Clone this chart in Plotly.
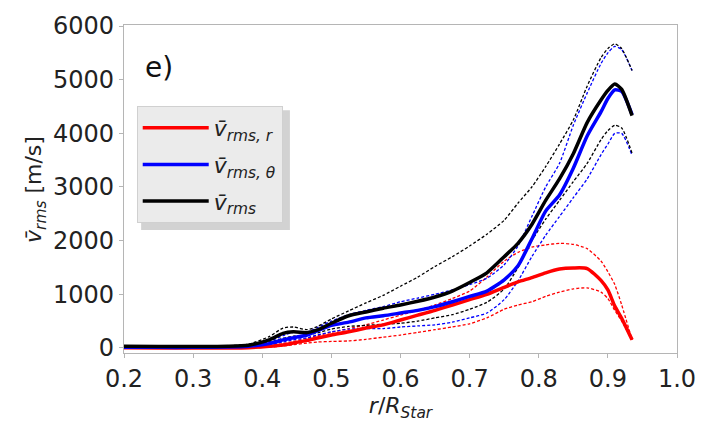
import plotly.graph_objects as go

r = [0.2, 0.25, 0.3, 0.35, 0.38, 0.41, 0.43, 0.445, 0.465, 0.48, 0.5, 0.525, 0.55, 0.575,
     0.6, 0.625, 0.65, 0.675, 0.7, 0.725, 0.75, 0.77, 0.79, 0.81, 0.83, 0.85, 0.87, 0.89,
     0.9, 0.91, 0.92, 0.935]

v_tot = [30, 25, 25, 30, 50, 150, 270, 300, 285, 335, 460, 600, 670, 740,
         800, 870, 950, 1060, 1220, 1400, 1700, 1950, 2300, 2750, 3150, 3620, 4200, 4620,
         4800, 4920, 4820, 4330]
v_tot_hi = [40, 35, 35, 40, 70, 210, 370, 390, 340, 400, 540, 690, 840, 980,
            1150, 1320, 1520, 1700, 1900, 2120, 2380, 2700, 3000, 3380, 3800, 4250, 4880, 5410,
            5580, 5670, 5580, 5170]
v_tot_lo = [20, 15, 15, 20, 30, 100, 180, 220, 240, 280, 350, 400, 420, 440,
            460, 500, 560, 620, 720, 850, 1100, 1500, 2000, 2400, 2750, 3100, 3440, 3880,
            4050, 4150, 4100, 3630]

v_th = [10, 10, 10, 15, 30, 80, 150, 190, 240, 320, 420, 480, 560, 600,
        650, 700, 770, 860, 960, 1060, 1270, 1530, 2030, 2550, 2850, 3350, 3950, 4400,
        4650, 4810, 4780, 4350]
v_th_hi = [15, 15, 15, 20, 40, 120, 230, 290, 300, 380, 500, 620, 700, 770,
           860, 930, 1000, 1080, 1180, 1300, 1550, 1900, 2450, 3000, 3440, 4150, 4750, 5300,
           5500, 5620, 5560, 5170]
v_th_lo = [5, 5, 5, 8, 20, 60, 110, 150, 190, 240, 300, 350, 360, 360,
           390, 410, 430, 480, 560, 650, 900, 1250, 1700, 2100, 2450, 2800, 3150, 3600,
           3800, 4000, 4000, 3590]

v_r = [5, 0, 0, 0, 5, 30, 55, 90, 140, 185, 240, 300, 370, 430,
       520, 610, 700, 800, 900, 1000, 1130, 1230, 1310, 1400, 1470, 1490, 1480, 1260,
       1080, 780, 550, 150]
v_r_hi = [5, 5, 5, 5, 10, 40, 80, 120, 180, 230, 290, 360, 430, 520,
          610, 700, 800, 920, 1060, 1320, 1620, 1780, 1880, 1920, 1950, 1930, 1850, 1620,
          1420, 1180, 800, 150]
v_r_lo = [0, 0, 0, 0, 0, 15, 35, 60, 90, 110, 120, 130, 160, 200,
          240, 290, 340, 390, 450, 560, 720, 800, 860, 960, 1040, 1100, 1120, 1040,
          920, 700, 500, 150]

x_ticks = [0.2, 0.3, 0.4, 0.5, 0.6, 0.7, 0.8, 0.9, 1.0]
x_tick_labels = ["0.2", "0.3", "0.4", "0.5", "0.6", "0.7", "0.8", "0.9", "1.0"]
y_ticks = [0, 1000, 2000, 3000, 4000, 5000, 6000]

RED, BLUE, BLACK = "#ff0000", "#0000ff", "#000000"
FONT = "DejaVu Sans"

fig = go.Figure()

def dashed(y, color):
    fig.add_trace(go.Scatter(x=r, y=y, mode="lines", showlegend=False, hoverinfo="skip",
                             line=dict(color=color, width=1.3, dash="3px,2px", shape="spline", smoothing=0.6)))

for ys, c in [(v_r_hi, RED), (v_r_lo, RED), (v_th_hi, BLUE), (v_th_lo, BLUE),
              (v_tot_hi, BLACK), (v_tot_lo, BLACK)]:
    dashed(ys, c)

fig.add_trace(go.Scatter(x=r, y=v_r, mode="lines", name="<i>v̄<sub>rms, r</sub></i>", legendgroup="a",
                         line=dict(color=RED, width=3.5, shape="spline", smoothing=0.6)))
fig.add_trace(go.Scatter(x=r, y=v_th, mode="lines", name="<i>v̄<sub>rms, θ</sub></i>", legendgroup="b",
                         line=dict(color=BLUE, width=3.5, shape="spline", smoothing=0.6)))
fig.add_trace(go.Scatter(x=r, y=v_tot, mode="lines", name="<i>v̄<sub>rms</sub></i>", legendgroup="c",
                         line=dict(color=BLACK, width=3.5, shape="spline", smoothing=0.6)))

fig.add_annotation(text="e)", xref="paper", yref="paper", x=0.035, y=0.87,
                   xanchor="left", yanchor="middle", showarrow=False,
                   font=dict(family=FONT, size=28, color="#111"))

# y-axis title
fig.add_annotation(text="<i>v̄<sub>rms</sub></i> [m/s]", xref="paper", yref="paper",
                   x=-0.161, y=0.5, xanchor="center", yanchor="middle", textangle=-90,
                   showarrow=False, font=dict(family=FONT, size=22, color="#222"))

# legend shadow
fig.add_shape(type="rect", xref="paper", yref="paper",
              x0=0.031, x1=0.3, y0=0.375, y1=0.74,
              fillcolor="#d2d2d2", line=dict(width=0), layer="below")

fig.update_layout(
    width=720, height=422,
    margin=dict(l=124, r=43, t=25, b=69),
    paper_bgcolor="white", plot_bgcolor="white",
    font=dict(family=FONT, size=24, color="#222"),
    showlegend=True,
    legend=dict(x=0.023, y=0.753, xanchor="left", yanchor="top",
                bgcolor="#ebebeb", bordercolor="#d0d0d0", borderwidth=1,
                font=dict(family=FONT, size=22, color="#222"),
                itemwidth=66, tracegroupgap=5, traceorder="grouped"),
    xaxis=dict(range=[0.2, 1.0], tickvals=x_ticks, ticktext=x_tick_labels,
               showgrid=False, zeroline=False, showline=True, linecolor="#b5b5b5",
               linewidth=1.2, mirror=True, ticks="outside", ticklen=4, tickcolor="#b5b5b5",
               tickfont=dict(size=24, color="#222"),
               title=dict(text="<i>r</i>/<i>R<sub>Star</sub></i>", font=dict(size=22), standoff=0)),
    yaxis=dict(range=[-95, 6020], tickvals=y_ticks,
               showgrid=False, zeroline=False, showline=True, linecolor="#b5b5b5",
               linewidth=1.2, mirror=True, ticks="outside", ticklen=4, tickcolor="#b5b5b5",
               tickfont=dict(size=24, color="#222")),
)

fig.write_html("out.html")
